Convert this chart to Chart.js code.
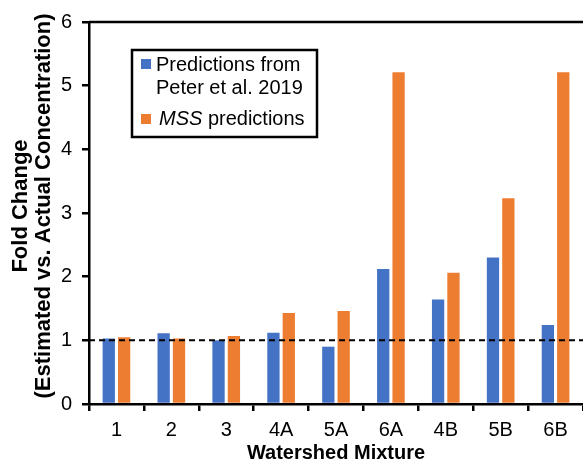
<!DOCTYPE html>
<html>
<head>
<meta charset="utf-8">
<script src="https://cdn.jsdelivr.net/npm/chart.js@4"></script>
<style>
  body { margin: 0; background: #fff; }
  #wrap { width: 583px; height: 465px; }
</style>
</head>
<body>
<div id="wrap"><canvas id="myChart"></canvas></div>
<script>
const mixtures = ["1", "2", "3", "4A", "5A", "6A", "4B", "5B", "6B"];
const peterValues = [1.03, 1.11, 1.0, 1.12, 0.9, 2.12, 1.64, 2.3, 1.24];
const mssValues = [1.05, 1.03, 1.07, 1.43, 1.46, 5.21, 2.06, 3.23, 5.21];
const yTicks = [0, 1, 2, 3, 4, 5, 6];
const refLine = 1;

const FONT = "'Liberation Sans', Arial, sans-serif";

// dashed reference line, top frame, legend box, y title
const extras = {
  id: "extras",
  afterDatasetsDraw(chart) {
    const ctx = chart.ctx;
    const a = chart.chartArea;
    const y = chart.scales.y.getPixelForValue(refLine);
    ctx.save();
    ctx.strokeStyle = "#000";
    ctx.lineWidth = 2;
    ctx.setLineDash([6, 4]);
    ctx.beginPath();
    ctx.moveTo(a.left, y);
    ctx.lineTo(a.right, y);
    ctx.stroke();
    ctx.setLineDash([]);

    ctx.lineWidth = 2.5;
    ctx.beginPath();
    ctx.moveTo(a.left, a.top);
    ctx.lineTo(a.right, a.top);
    ctx.stroke();

    // legend
    ctx.fillStyle = "#fff";
    ctx.fillRect(132, 50, 185, 87);
    ctx.lineWidth = 2.5;
    ctx.strokeRect(132, 50, 185, 87);
    const ds = chart.data.datasets;
    ctx.fillStyle = ds[0].backgroundColor;
    ctx.fillRect(141, 59, 10, 10);
    ctx.fillStyle = ds[1].backgroundColor;
    ctx.fillRect(141, 114, 10, 10);
    ctx.fillStyle = "#000";
    ctx.textBaseline = "middle";
    ctx.font = "20px " + FONT;
    ctx.fillText("Predictions from", 156, 65);
    ctx.fillText("Peter et al. 2019", 156, 88);
    ctx.font = "italic 20px " + FONT;
    ctx.fillText("MSS", 159, 119);
    const w = ctx.measureText("MSS ").width;
    ctx.font = "20px " + FONT;
    ctx.fillText("predictions", 159 + w, 119);

    // y title
    ctx.translate(32, 206);
    ctx.rotate(-Math.PI / 2);
    ctx.textAlign = "center";
    ctx.font = "bold 22px " + FONT;
    ctx.fillText("Fold Change", 0, -11.5);
    ctx.fillText("(Estimated vs. Actual Concentration)", 0, 11.5);
    ctx.restore();
  }
};

const ctx = document.getElementById("myChart").getContext("2d");
const myChart = new Chart(ctx, {
  type: "bar",
  data: {
    labels: mixtures,
    datasets: [
      {
        label: "Predictions from Peter et al. 2019",
        data: peterValues,
        backgroundColor: "#4472C4",
        categoryPercentage: 0.56,
        barPercentage: 0.8,
      },
      {
        label: "MSS predictions",
        data: mssValues,
        backgroundColor: "#ED7D31",
        categoryPercentage: 0.56,
        barPercentage: 0.8,
      },
    ],
  },
  options: {
    responsive: true,
    maintainAspectRatio: false,
    animation: false,
    layout: { padding: { top: 21, right: 0, left: 0, bottom: 0 } },
    plugins: {
      legend: { display: false },
      tooltip: { enabled: false },
    },
    scales: {
      x: {
        grid: { drawOnChartArea: false, color: "#000", lineWidth: 2.5, tickLength: 7, offset: true },
        border: { color: "#000", width: 2.5 },
        ticks: { color: "#000", font: { family: FONT, size: 20 }, padding: 7 },
        title: {
          display: true,
          text: "Watershed Mixture",
          color: "#000",
          font: { family: FONT, size: 20, weight: "bold" },
          padding: { top: 0, bottom: 0 },
        },
        afterFit(scale) { scale.height = 61; },
      },
      y: {
        min: 0,
        max: 6,
        afterBuildTicks(scale) { scale.ticks = yTicks.map(v => ({ value: v })); },
        grid: { drawOnChartArea: false, color: "#000", lineWidth: 2.5, tickLength: 7 },
        border: { color: "#000", width: 2.5 },
        ticks: { color: "#000", font: { family: FONT, size: 20 }, padding: 10 },
        afterFit(scale) { scale.width = 89; },
      },
    },
  },
  plugins: [extras],
});
</script>
</body>
</html>
